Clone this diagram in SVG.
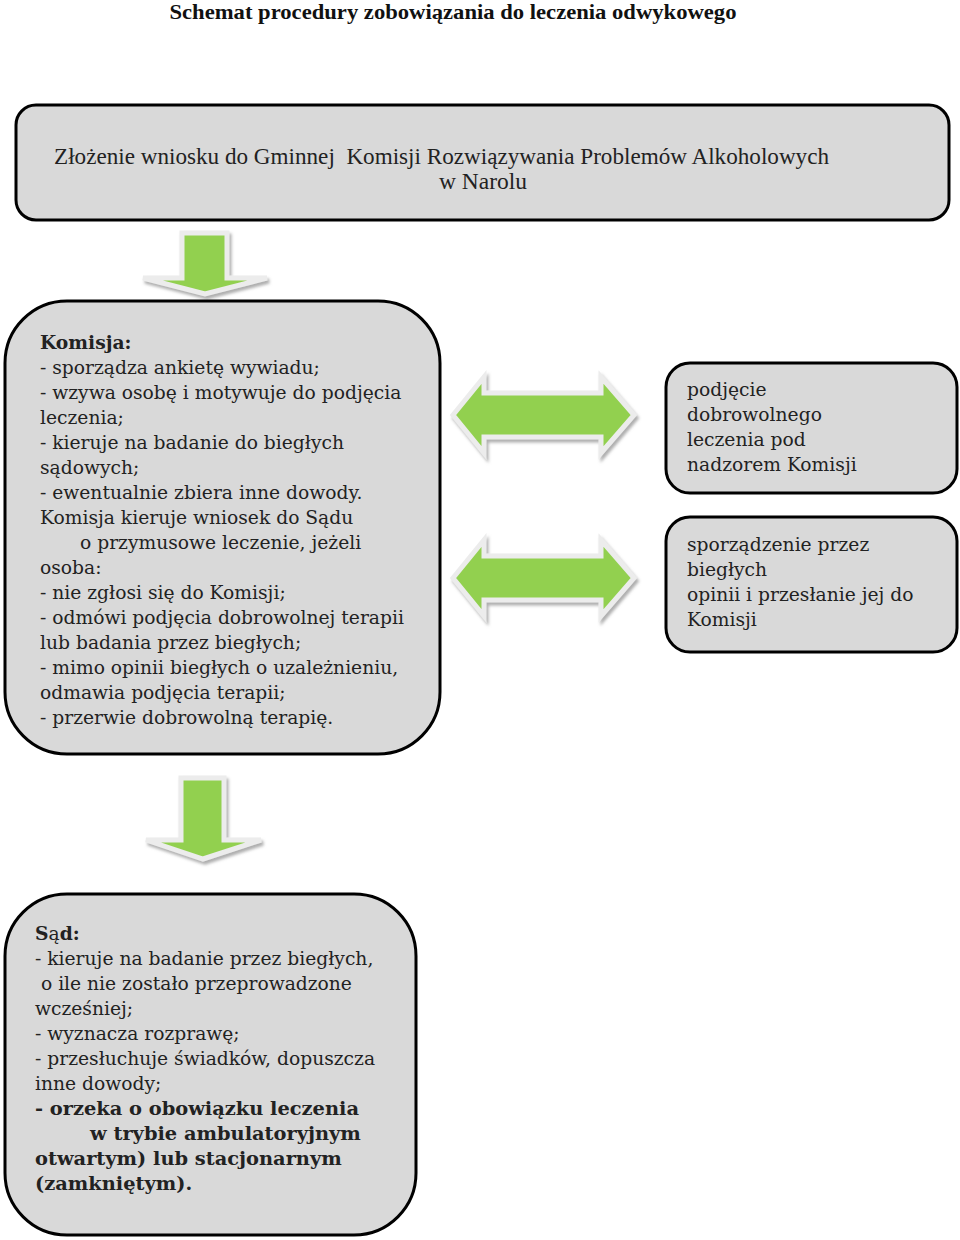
<svg xmlns="http://www.w3.org/2000/svg" width="960" height="1240" viewBox="0 0 960 1240">
<style>
.box{fill:#d9d9d9;stroke:#000;stroke-width:3}
.t{font-family:"DejaVu Serif","Liberation Serif",serif;font-size:18.7px;fill:#222}
.b{font-weight:bold}
.bb{font-weight:bold;font-size:19.4px}
.arr{fill:#92d050;stroke:#ececec;stroke-width:5;stroke-linejoin:miter;filter:url(#sh)}
</style>
<defs>
<filter id="sh" x="-20%" y="-20%" width="140%" height="140%">
<feDropShadow dx="2" dy="3" stdDeviation="1.5" flood-color="#8c8c8c" flood-opacity="0.7"/>
</filter>
</defs>
<rect width="960" height="1240" fill="#fff"/>
<text x="453" y="19" text-anchor="middle" font-family="'Liberation Serif',serif" font-weight="bold" font-size="22" textLength="567" lengthAdjust="spacingAndGlyphs" fill="#111">Schemat procedury zobowiązania do leczenia odwykowego</text>

<g id="connectors">
<polygon class="arr" points="182,233 227,233 227,278 267,278 205,294 143,278 182,278"/>
<polygon class="arr" points="453,415 484,377 484,393 601,393 601,377 634,415 601,453 601,437 484,437 484,453"/>
<polygon class="arr" points="453,578 484,540 484,556 601,556 601,540 634,578 601,616 601,600 484,600 484,616"/>
<polygon class="arr" points="181,778 224,778 224,840 261,840 203,859 146,840 181,840"/>
</g>

<g id="node-wniosek">
<rect class="box" x="16" y="105" width="933" height="115" rx="20"/>
<text x="54" y="164" font-family="'Liberation Serif',serif" font-size="24" fill="#222" textLength="775" lengthAdjust="spacingAndGlyphs">Złożenie wniosku do Gminnej&#160; Komisji Rozwiązywania Problemów Alkoholowych</text>
<text x="483" y="189" text-anchor="middle" font-family="'Liberation Serif',serif" font-size="24" fill="#222" textLength="88" lengthAdjust="spacingAndGlyphs">w Narolu</text>
</g>

<g id="node-komisja">
<rect class="box" x="5" y="301" width="435" height="453" rx="62"/>
<text class="t">
<tspan x="40" y="349" class="b">Komisja:</tspan>
<tspan x="40" y="374">- sporządza ankietę wywiadu;</tspan>
<tspan x="40" y="399">- wzywa osobę i motywuje do podjęcia</tspan>
<tspan x="40" y="424">leczenia;</tspan>
<tspan x="40" y="449">- kieruje na badanie do biegłych</tspan>
<tspan x="40" y="474">sądowych;</tspan>
<tspan x="40" y="499">- ewentualnie zbiera inne dowody.</tspan>
<tspan x="40" y="524">Komisja kieruje wniosek do Sądu</tspan>
<tspan x="80" y="549">o przymusowe leczenie, jeżeli</tspan>
<tspan x="40" y="574">osoba:</tspan>
<tspan x="40" y="599">- nie zgłosi się do Komisji;</tspan>
<tspan x="40" y="624">- odmówi podjęcia dobrowolnej terapii</tspan>
<tspan x="40" y="649">lub badania przez biegłych;</tspan>
<tspan x="40" y="674">- mimo opinii biegłych o uzależnieniu,</tspan>
<tspan x="40" y="699">odmawia podjęcia terapii;</tspan>
<tspan x="40" y="724">- przerwie dobrowolną terapię.</tspan>
</text>
</g>

<g id="node-dobrowolne">
<rect class="box" x="666" y="363" width="291" height="130" rx="24"/>
<text class="t">
<tspan x="687" y="396">podjęcie</tspan>
<tspan x="687" y="421">dobrowolnego</tspan>
<tspan x="687" y="446">leczenia pod</tspan>
<tspan x="687" y="471">nadzorem Komisji</tspan>
</text>
</g>

<g id="node-opinia">
<rect class="box" x="666" y="517" width="291" height="135" rx="24"/>
<text class="t">
<tspan x="687" y="551">sporządzenie przez</tspan>
<tspan x="687" y="576">biegłych</tspan>
<tspan x="687" y="601">opinii i przesłanie jej do</tspan>
<tspan x="687" y="626">Komisji</tspan>
</text>
</g>

<g id="node-sad">
<rect class="box" x="5" y="894" width="411" height="341" rx="62"/>
<text class="t">
<tspan x="35" y="940" class="b">S</tspan><tspan>ą</tspan><tspan class="b">d:</tspan>
<tspan x="35" y="965">- kieruje na badanie przez biegłych,</tspan>
<tspan x="35" y="990">&#160;o ile nie zostało przeprowadzone</tspan>
<tspan x="35" y="1015">wcześniej;</tspan>
<tspan x="35" y="1040">- wyznacza rozprawę;</tspan>
<tspan x="35" y="1065">- przesłuchuje świadków, dopuszcza</tspan>
<tspan x="35" y="1090">inne dowody;</tspan>
<tspan x="35" y="1115" class="bb">- orzeka o obowiązku leczenia</tspan>
<tspan x="90" y="1140" class="bb">w trybie ambulatoryjnym</tspan>
<tspan x="35" y="1165" class="bb">otwartym) lub stacjonarnym</tspan>
<tspan x="35" y="1190" class="bb">(zamkniętym).</tspan>
</text>
</g>
</svg>
